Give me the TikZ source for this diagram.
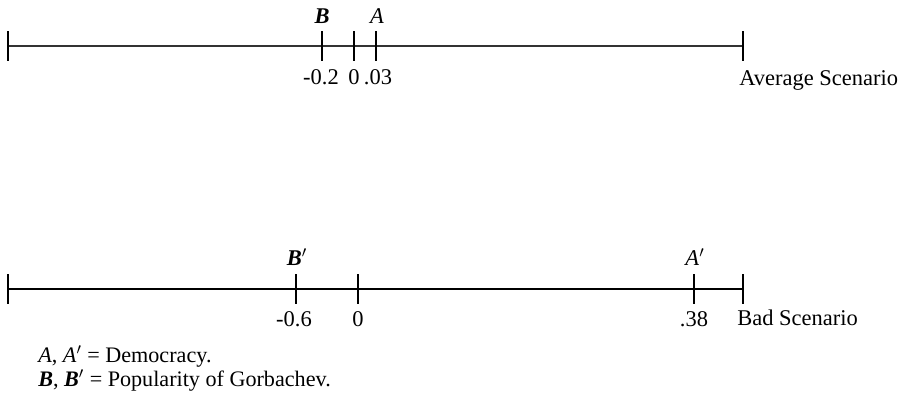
\documentclass[tikz,border=0pt]{standalone}
\usepackage{fontspec}
\setmainfont{Liberation Serif}
\usetikzlibrary{positioning}

\begin{document}
\begin{tikzpicture}[x=0.02cm, y=-0.02cm,
  axis/.style={line width=0.7pt, draw=black!80},
  axisB/.style={line width=1.1pt},
  tck/.style={line width=0.6pt},
  tckB/.style={line width=1.1pt},
  val/.style={font=\fontsize{12.8}{14}\selectfont, anchor=base, inner sep=0pt},
  pnt/.style={font=\fontsize{12.8}{14}\selectfont, anchor=base, inner sep=0pt},
  scen/.style={font=\fontsize{12.8}{14}\selectfont, anchor=base west, inner sep=0pt},
  key/.style={font=\fontsize{12.6}{14}\selectfont, anchor=base west, inner sep=0pt}]
\useasboundingbox (0,0) rectangle (904,413);
% average scenario
\coordinate (avgL) at (8,46);
\coordinate (avgR) at (743,46);
\coordinate (avgB) at (322,46);
\coordinate (avgZ) at (354,46);
\coordinate (avgA) at (376,46);
\draw[axis] (avgL) -- (avgR);
\foreach \t in {avgL, avgR, avgB, avgZ, avgA}
  \draw[tck] (\t) ++(0,-15) -- ++(0,30);
\node[pnt] (lblB) at (322,23) {\textbf{\textit{B}}};
\node[pnt] (lblA) at (377,23) {\textit{A}};
\node[val] (vB) at (321,84) {-0.2};
\node[val] (vZ) at (354,84) {0};
\node[val] (vA) at (378,84) {.03};
\node[scen] (avgLbl) at (739,85) {Average Scenario};
% bad scenario
\coordinate (badL) at (8,289);
\coordinate (badR) at (743,289);
\coordinate (badB) at (296,289);
\coordinate (badZ) at (358,289);
\coordinate (badA) at (694,289);
\draw[axisB] (badL) -- (badR);
\foreach \t in {badL, badR, badA}
  \draw[tck] (\t) ++(0,-15) -- ++(0,30);
\foreach \t in {badB, badZ}
  \draw[tckB] (\t) ++(0,-15) -- ++(0,30);
\node[pnt] (lblBp) at (297,265) {\textbf{\textit{B}}$'$};
\node[pnt] (lblAp) at (695,265) {\textit{A}$'$};
\node[val] (vBp) at (294,326) {-0.6};
\node[val] (vZp) at (358,326) {0};
\node[val] (vAp) at (694,326) {.38};
\node[scen] (badLbl) at (737,325) {Bad Scenario};
% key
\node[key] (keyA) at (38,362) {\textit{A}, \textit{A}$'$ = Democracy.};
\node[key] (keyB) at (38,386) {\textbf{\textit{B}}, \textbf{\textit{B}}$'$ = Popularity of Gorbachev.};
\end{tikzpicture}
\end{document}
